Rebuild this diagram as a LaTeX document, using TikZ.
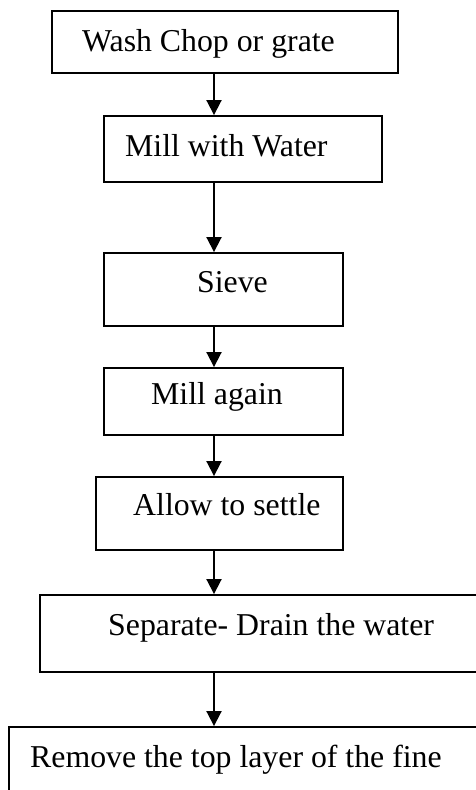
\documentclass[tikz,border=0pt]{standalone}
\usepackage{fontspec}
\setmainfont{Liberation Serif}
\usetikzlibrary{arrows.meta}
\tikzset{
  stepbox/.style={draw=black, line width=1.9pt, inner sep=0pt, rectangle},
  steptext/.style={inner sep=0pt, anchor=base west, font=\fontsize{31.8}{36}\selectfont},
  flow/.style={line width=1.9pt, -{Triangle[width=15pt,length=15pt]}}
}
\newcommand{\boxat}[5]{% name, x1, y1, x2, y2
  \node[stepbox, minimum width={(#4-#2)*1pt}, minimum height={(#5-#3)*1pt}]
    (#1) at ({(#2+#4)/2},{(#3+#5)/2}) {};}
\begin{document}
\begin{tikzpicture}[x=1pt, y=-1pt]
  \useasboundingbox (0,0) rectangle (476,790);
  \clip (0,0) rectangle (476,790);
  \fill[white] (0,0) rectangle (476,790);

  % process steps
  \boxat{b1}{52}{11}{398}{73}
  \boxat{b2}{104}{116}{382}{182}
  \boxat{b3}{104}{253}{343}{326}
  \boxat{b4}{104}{368}{343}{435}
  \boxat{b5}{96}{477}{343}{550}
  \boxat{b6}{40}{595}{495}{672}
  \boxat{b7}{9}{727}{500}{815}

  \node[steptext] (t1) at (82,51)  {Wash Chop or grate};
  \node[steptext] (t2) at (125,156) {Mill with Water};
  \node[steptext] (t3) at (197,292) {Sieve};
  \node[steptext] (t4) at (151,404) {Mill again};
  \node[steptext] (t5) at (133,515) {Allow to settle};
  \node[steptext] (t6) at (108,635) {Separate- Drain the water};
  \node[steptext] (t7) at (30,767) {Remove the top layer of the fine};

  % connectors share one vertical axis
  \coordinate (ax) at (214,0);
  \foreach \a/\b in {b1/b2, b2/b3, b3/b4, b4/b5, b5/b6, b6/b7}
    \draw[flow] (\a.south -| ax) -- (\b.north -| ax);
\end{tikzpicture}
\end{document}
